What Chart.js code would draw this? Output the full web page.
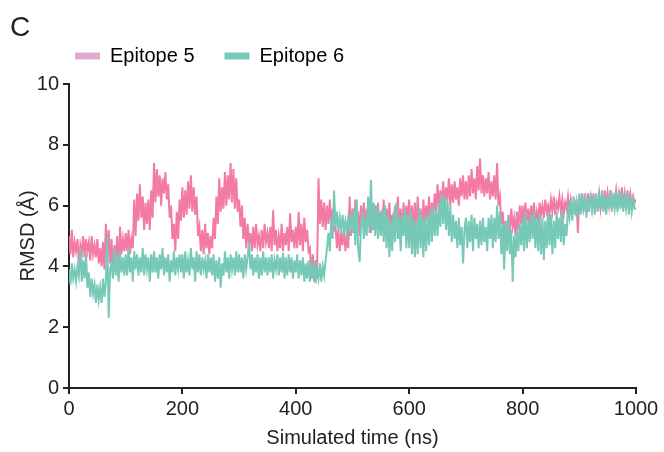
<!DOCTYPE html>
<html>
<head>
<meta charset="utf-8">
<title>RMSD epitope 5 / 6</title>
<script src="https://cdn.jsdelivr.net/npm/chart.js@4.4.0/dist/chart.umd.min.js"></script>
<style>
  html, body { margin: 0; padding: 0; background: #fff; }
  #wrap { width: 664px; height: 452px; }
</style>
</head>
<body>
<div id="wrap"><canvas id="rmsd-chart" width="664" height="452"></canvas></div>
<script>
// values, one sample every 2.5 ns from 0 to 1000 ns
var seriesNames = ['Epitope 5', 'Epitope 6'];
var xTicks = [0, 200, 400, 600, 800, 1000];
var yTicks = [0, 2, 4, 6, 8, 10];

var epitope5 = [
  5.0, 4.4, 5.2, 4.3, 4.8, 4.5, 4.9, 4.1, 4.7, 4.4, 5.0, 4.3, 4.9, 4.5, 4.8, 4.2, 5.0, 4.4, 4.7, 4.3,
  4.9, 4.1, 4.6, 4.0, 4.8, 3.9, 5.4, 4.3, 5.2, 4.1, 4.9, 3.7, 4.7, 4.2, 5.0, 3.9, 5.3, 4.4, 4.9, 4.5,
  5.1, 4.5, 5.2, 4.4, 4.9, 4.6, 6.2, 5.0, 6.4, 5.5, 6.7, 5.6, 6.3, 5.2, 6.1, 5.4, 6.2, 5.2, 6.5, 5.6,
  7.4, 6.1, 7.2, 6.3, 7.0, 6.0, 6.9, 6.4, 7.1, 6.2, 6.7, 5.6, 6.0, 4.9, 5.4, 4.5, 5.8, 4.9, 6.2, 5.5,
  6.6, 5.6, 6.5, 5.7, 6.8, 5.9, 7.0, 5.8, 6.6, 5.7, 6.3, 5.0, 5.3, 4.5, 5.2, 4.4, 5.4, 4.6, 5.1, 4.4,
  5.0, 4.6, 5.6, 4.9, 6.3, 5.4, 6.9, 5.8, 6.6, 5.9, 7.1, 6.0, 7.0, 6.2, 7.4, 6.1, 7.2, 5.9, 6.9, 5.8,
  6.2, 5.3, 6.0, 4.9, 5.6, 4.6, 5.4, 4.7, 5.1, 4.5, 5.3, 4.6, 5.4, 4.7, 5.0, 4.5, 5.2, 4.6, 5.4, 4.8,
  5.1, 4.6, 5.3, 4.5, 5.85, 4.7, 5.2, 4.5, 5.0, 4.6, 5.4, 4.5, 5.1, 4.7, 5.3, 4.5, 5.75, 4.8, 5.2, 4.6,
  5.3, 4.6, 5.8, 4.7, 5.4, 4.5, 5.6, 4.8, 5.2, 4.5, 4.6, 3.6, 4.4, 3.5, 4.2, 3.8, 6.9, 5.4, 6.2, 5.3,
  6.1, 5.2, 6.0, 5.4, 6.2, 5.3, 5.9, 5.2, 5.3, 4.6, 5.2, 4.5, 5.1, 4.7, 5.3, 4.5, 5.0, 4.6, 6.3, 5.0,
  5.9, 5.1, 6.2, 5.3, 5.8, 5.0, 6.0, 5.4, 6.1, 5.2, 5.9, 5.3, 6.2, 5.1, 5.8, 5.2, 6.0, 5.4, 6.1, 5.3,
  5.8, 5.2, 6.2, 5.0, 5.9, 5.3, 6.1, 5.2, 5.7, 5.1, 6.0, 5.4, 6.3, 5.2, 5.9, 5.1, 6.1, 5.3, 6.0, 5.5,
  6.2, 5.3, 6.0, 5.0, 6.1, 5.2, 6.3, 5.4, 5.9, 5.1, 6.2, 5.4, 6.0, 5.5, 6.3, 5.4, 6.1, 5.6, 6.4, 5.8,
  6.7, 5.9, 6.5, 6.0, 6.8, 5.9, 6.6, 6.2, 6.9, 6.0, 6.7, 6.1, 6.8, 6.2, 6.6, 6.0, 6.9, 6.3, 7.0, 6.2,
  6.8, 6.2, 7.0, 6.3, 7.2, 6.4, 6.9, 6.2, 7.3, 6.5, 7.55, 6.4, 7.0, 6.3, 6.9, 6.4, 7.1, 6.2, 6.8, 6.3,
  7.0, 6.2, 7.4, 6.0, 6.3, 5.4, 5.8, 4.9, 5.5, 4.8, 5.7, 5.1, 5.9, 5.3, 5.6, 5.0, 5.8, 5.2, 6.0, 5.4,
  6.0, 5.4, 6.1, 5.5, 5.9, 5.3, 6.0, 5.6, 6.1, 5.4, 5.8, 5.5, 6.1, 5.7, 6.0, 5.6, 6.2, 5.8, 6.0, 5.7,
  6.2, 5.8, 6.3, 5.7, 6.1, 5.9, 6.3, 5.8, 6.2, 5.7, 6.1, 5.9, 6.3, 5.8, 6.2, 5.9, 6.0, 5.8, 6.2, 5.1,
  6.3, 5.8, 6.4, 5.9, 6.2, 5.8, 6.4, 6.0, 6.3, 5.9, 6.4, 5.8, 6.2, 6.0, 6.4, 5.9, 6.3, 6.0, 6.5, 5.9,
  6.4, 6.0, 6.5, 5.9, 6.3, 6.1, 6.5, 6.0, 6.4, 6.1, 6.6, 6.0, 6.4, 5.9, 6.5, 6.1, 6.4, 6.0, 6.3, 6.1,
  6.2
];

var epitope6 = [
  3.9, 3.4, 4.1, 3.6, 3.9, 3.5, 4.0, 3.7, 4.6, 3.5, 4.2, 3.6, 4.4, 3.3, 3.8, 3.0, 3.6, 3.1, 3.4, 2.8,
  3.4, 2.9, 3.3, 2.8, 3.6, 3.0, 3.5, 5.0, 2.3, 3.9, 4.1, 3.6, 4.6, 3.7, 4.4, 3.5, 4.5, 3.8, 4.3, 3.7,
  4.4, 3.7, 4.6, 3.8, 4.3, 3.5, 4.5, 3.9, 4.4, 3.7, 4.3, 3.8, 4.6, 3.7, 4.4, 3.9, 4.3, 3.5, 4.4, 3.8,
  4.5, 3.8, 4.3, 3.6, 4.4, 3.9, 4.6, 3.7, 4.3, 3.8, 4.4, 3.5, 4.2, 3.8, 4.5, 3.7, 4.3, 3.9, 4.4, 3.8,
  4.4, 3.6, 4.5, 3.8, 4.2, 3.7, 4.6, 3.9, 4.3, 3.5, 4.5, 3.8, 4.4, 3.7, 4.3, 3.9, 4.2, 3.6, 4.4, 3.8,
  4.3, 3.7, 4.4, 3.5, 4.2, 3.6, 4.3, 3.3, 4.1, 3.7, 4.5, 3.8, 4.3, 3.6, 4.4, 3.9, 4.3, 3.7, 4.5, 3.8,
  4.4, 3.8, 4.3, 3.6, 4.4, 3.9, 4.3, 4.8, 3.9, 4.4, 3.7, 4.3, 3.8, 4.4, 3.6, 4.3, 3.7, 4.5, 3.8, 4.3,
  3.7, 4.3, 3.8, 4.4, 3.6, 4.2, 3.9, 4.4, 3.7, 4.3, 3.8, 4.45, 3.6, 4.3, 3.7, 4.4, 3.8, 4.3, 3.6, 4.2,
  3.8, 4.4, 3.6, 4.2, 3.7, 4.3, 3.5, 4.1, 3.6, 4.2, 3.5, 4.0, 3.6, 4.2, 3.45, 3.9, 3.6, 4.1, 3.5, 4.0,
  3.7, 4.2, 4.6, 5.1, 4.5, 5.6, 4.9, 6.5, 5.3, 5.8, 5.2, 5.6, 5.1, 5.7, 5.2, 5.5, 5.1, 5.6, 5.2, 5.7,
  5.1, 5.9, 4.7, 6.2, 4.6, 4.15, 5.3, 5.8, 4.9, 5.6, 5.0, 6.3, 5.1, 6.85, 5.2, 6.1, 5.0, 6.0, 4.9, 5.8,
  5.0, 5.9, 4.8, 6.0, 4.6, 5.7, 4.3, 5.5, 4.5, 5.8, 4.8, 6.1, 4.9, 5.6, 4.5, 5.7, 5.0, 5.9, 4.6, 5.7,
  4.6, 5.8, 4.4, 5.6, 4.3, 5.5, 4.4, 5.9, 4.6, 5.7, 4.3, 5.6, 4.5, 5.7, 4.7, 5.9, 4.8, 6.0, 5.0, 5.8,
  5.0, 6.1, 5.3, 6.4, 5.4, 6.3, 5.2, 6.2, 5.0, 6.0, 4.8, 5.7, 4.9, 5.5, 4.6, 5.6, 4.7, 5.3, 4.1, 5.2,
  5.6, 4.6, 5.5, 4.8, 5.7, 4.5, 5.6, 4.9, 5.4, 4.6, 5.5, 4.7, 5.6, 4.8, 5.3, 4.5, 5.6, 4.9, 5.7, 4.6,
  5.6, 4.8, 6.0, 4.9, 5.8, 4.4, 5.4, 3.9, 5.5, 4.5, 5.6, 4.4, 5.2, 3.5, 5.0, 4.3, 5.2, 4.5, 5.4, 4.7,
  5.6, 4.5, 5.8, 4.6, 5.5, 4.8, 5.7, 4.9, 5.8, 4.6, 5.6, 4.5, 5.7, 4.4, 5.6, 4.2, 5.5, 4.6, 5.8, 4.7,
  5.7, 4.4, 5.5, 4.6, 5.8, 4.9, 5.6, 4.8, 5.85, 4.7, 5.4, 5.0, 5.9, 5.6, 6.2, 5.5, 6.3, 5.7, 6.1, 5.6,
  6.4, 5.7, 6.3, 5.8, 6.4, 5.6, 6.2, 5.8, 6.4, 5.9, 6.3, 5.7, 6.4, 5.8, 6.3, 5.9, 6.5, 5.8, 6.3, 5.7,
  6.3, 5.9, 6.5, 5.8, 6.4, 5.9, 6.3, 5.8, 6.5, 5.9, 6.4, 5.8, 6.3, 5.9, 6.4, 5.7, 6.3, 5.8, 6.2, 5.9,
  5.9
];

var lineColors = ['#f47aa6', '#76c9b7'];
var legendColors = ['#e2a9cf', '#74cbb8'];
var font = '"Liberation Sans", Arial, Helvetica, sans-serif';
var ink = '#222';

// samples are evenly spread over 0..1000 ns
function toPoints(values) {
  var pts = [];
  var step = 1000 / (values.length - 1);
  for (var i = 0; i < values.length; i++) {
    pts.push({ x: i * step, y: values[i] });
  }
  return pts;
}

// legend sits right above the plot, left aligned with it
var nudgeLegend = {
  id: 'nudgeLegend',
  afterLayout: function(chart) {
    var lg = chart.legend;
    var dx = 35;
    lg.left += dx; lg.right += dx;
    lg.top = 16; lg.bottom = 16 + 60;
  }
};

var ctx = document.getElementById('rmsd-chart');

var rmsdChart = new Chart(ctx, {
  type: 'line',
  data: {
    datasets: [
      {
        label: seriesNames[0],
        data: toPoints(epitope5),
        borderColor: lineColors[0],
        backgroundColor: legendColors[0],
        borderWidth: 2,
        pointRadius: 0,
        tension: 0,
        order: 1
      },
      {
        label: seriesNames[1],
        data: toPoints(epitope6),
        borderColor: lineColors[1],
        backgroundColor: legendColors[1],
        borderWidth: 2,
        pointRadius: 0,
        tension: 0,
        order: 0
      }
    ]
  },
  options: {
    responsive: false,
    animation: false,
    events: [],
    layout: { padding: { left: 10, right: 28, top: 0, bottom: 0 } },
    plugins: {
      title: {
        display: true,
        text: 'C',
        align: 'start',
        color: ink,
        font: { family: font, size: 28, weight: 'normal' },
        padding: { top: 11, bottom: 0 }
      },
      legend: {
        display: true,
        align: 'start',
        maxHeight: 39.4,
        labels: {
          boxWidth: 25,
          boxHeight: 7,
          padding: 30,
          color: ink,
          font: { family: font, size: 20 },
          generateLabels: function(chart) {
            return chart.data.datasets.map(function(ds, i) {
              return {
                text: ds.label,
                fillStyle: legendColors[i],
                strokeStyle: legendColors[i],
                lineWidth: 0,
                hidden: false,
                datasetIndex: i
              };
            });
          }
        }
      },
      tooltip: { enabled: false }
    },
    scales: {
      x: {
        type: 'linear',
        min: 0,
        max: 1000,
        afterFit: function(scale) { scale.height = 64; },
        afterBuildTicks: function(scale) {
          scale.ticks = xTicks.map(function(v) { return { value: v }; });
        },
        border: { display: true, color: ink, width: 2 },
        grid: { display: true, drawOnChartArea: false, drawTicks: true, tickLength: 6, color: ink, lineWidth: 2 },
        ticks: {
          color: ink, padding: 3, maxRotation: 0,
          font: { family: font, size: 20 },
          callback: function(v) { return String(v); }
        },
        title: {
          display: true,
          text: 'Simulated time (ns)',
          color: ink,
          font: { family: font, size: 20 },
          padding: { top: 0, bottom: 2 }
        }
      },
      y: {
        type: 'linear',
        min: 0,
        max: 10,
        afterFit: function(scale) { scale.width = 59; },
        afterBuildTicks: function(scale) {
          scale.ticks = yTicks.map(function(v) { return { value: v }; });
        },
        border: { display: true, color: ink, width: 2 },
        grid: { display: true, drawOnChartArea: false, drawTicks: true, tickLength: 6, color: ink, lineWidth: 2 },
        ticks: {
          color: ink, padding: 4,
          font: { family: font, size: 20 },
          callback: function(v) { return String(v); }
        },
        title: {
          display: true,
          text: 'RMSD (Å)',
          color: ink,
          font: { family: font, size: 20 },
          padding: { top: 6, bottom: 0 }
        }
      }
    }
  },
  plugins: [nudgeLegend]
});
</script>
</body>
</html>
